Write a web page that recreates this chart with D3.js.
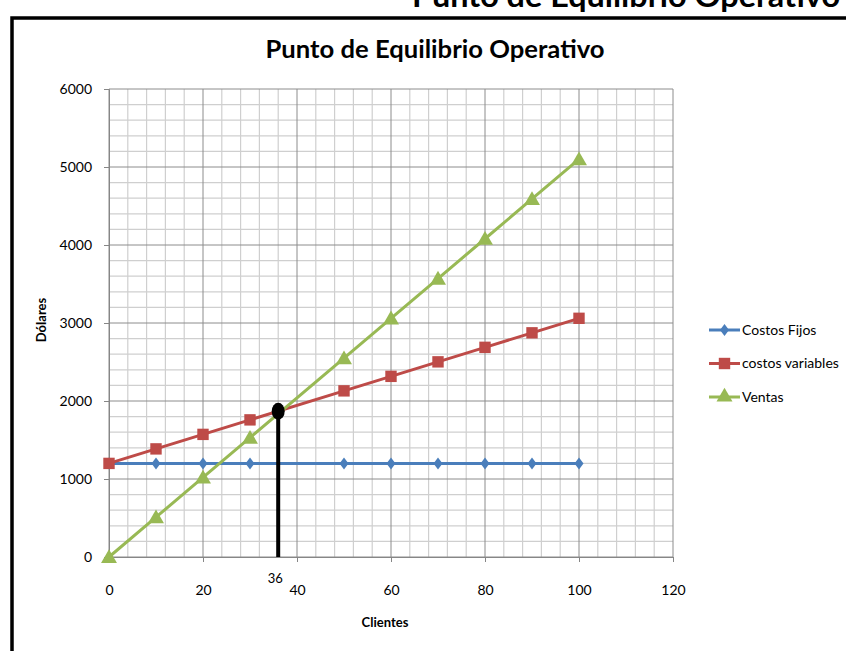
<!DOCTYPE html>
<html>
<head>
<meta charset="utf-8">
<script src="https://cdn.jsdelivr.net/npm/d3@7"></script>
<style>
  html, body { margin: 0; padding: 0; background: #fff; }
  svg { display: block; }
  text { font-family: Lato, "Open Sans", sans-serif; fill: #000; }
</style>
</head>
<body>
<svg id="chart" width="846" height="651"></svg>
<script>
// Break-even data: clients vs. dollars
const clientes = [0, 10, 20, 30, 50, 60, 70, 80, 90, 100];
const costosFijos = [1200, 1200, 1200, 1200, 1200, 1200, 1200, 1200, 1200, 1200];
const costosVariables = [1200, 1386, 1572, 1758, 2130, 2316, 2502, 2688, 2874, 3060];
const ventas = [0, 510, 1020, 1530, 2550, 3060, 3570, 4080, 4590, 5100];
const xTicks = [0, 20, 40, 60, 80, 100, 120];
const yTicks = [0, 1000, 2000, 3000, 4000, 5000, 6000];
const equilibrioX = 36;
const equilibrioY = 1870;
const seriesNames = ["Costos Fijos", "costos variables", "Ventas"];
const seriesColors = ["#4A7EBB", "#BE4B48", "#98B954"];

const svg = d3.select("#chart");
const x = d3.scaleLinear().domain([0, 120]).range([109, 673]);
const y = d3.scaleLinear().domain([0, 6000]).range([557, 89]);

// Heading above the chart box (runs off the top edge of the page)
svg.append("text")
  .attr("x", 412).attr("y", 7)
  .attr("font-size", 30).attr("font-weight", "bold")
  .attr("textLength", 428).attr("lengthAdjust", "spacingAndGlyphs")
  .text("Punto de Equilibrio Operativo");

// Chart box border
svg.append("rect")
  .attr("x", 12).attr("y", 18).attr("width", 900).attr("height", 700)
  .attr("fill", "#fff").attr("stroke", "#000").attr("stroke-width", 3.5);

// Title
svg.append("text")
  .attr("x", 435).attr("y", 58).attr("text-anchor", "middle")
  .attr("font-size", 25).attr("font-weight", "bold")
  .attr("textLength", 339).attr("lengthAdjust", "spacingAndGlyphs")
  .text("Punto de Equilibrio Operativo");

// Grid: minor lines
const grid = svg.append("g");
grid.selectAll(".vminor").data(d3.range(0, 121, 4).filter(v => v % 20 !== 0)).join("line")
  .attr("x1", d => x(d)).attr("x2", d => x(d)).attr("y1", y(0)).attr("y2", y(6000))
  .attr("stroke", "#cfcfcf").attr("stroke-width", 1.2);
grid.selectAll(".hminor").data(d3.range(0, 6001, 200).filter(v => v % 1000 !== 0)).join("line")
  .attr("x1", x(0)).attr("x2", x(120)).attr("y1", d => y(d)).attr("y2", d => y(d))
  .attr("stroke", "#cfcfcf").attr("stroke-width", 1.2);
// Grid: major lines
grid.selectAll(".vmajor").data(xTicks).join("line")
  .attr("x1", d => x(d)).attr("x2", d => x(d)).attr("y1", y(0)).attr("y2", y(6000))
  .attr("stroke", "#8c8c8c").attr("stroke-width", 1);
grid.selectAll(".hmajor").data(yTicks).join("line")
  .attr("x1", x(0)).attr("x2", x(120)).attr("y1", d => y(d)).attr("y2", d => y(d))
  .attr("stroke", "#8c8c8c").attr("stroke-width", 1);

// Axes
const yAxis = svg.append("g").attr("transform", `translate(${x(0)},0)`)
  .call(d3.axisLeft(y).tickValues(yTicks).tickSize(5).tickPadding(12).tickFormat(d3.format("d")));
const xAxis = svg.append("g").attr("transform", `translate(0,${y(0)})`)
  .call(d3.axisBottom(x).tickValues(xTicks).tickSize(5).tickPadding(23).tickFormat(d3.format("d")));
[yAxis, xAxis].forEach(a => {
  a.select(".domain").attr("stroke", "#868686");
  a.selectAll(".tick line").attr("stroke", "#868686");
  a.selectAll(".tick text").attr("font-size", 14).attr("font-family", "Lato, sans-serif").attr("fill", "#000");
});

// Axis titles
svg.append("text")
  .attr("transform", `translate(46,320) rotate(-90)`)
  .attr("text-anchor", "middle").attr("font-size", 13).attr("font-weight", "bold")
  .text("Dólares");
svg.append("text")
  .attr("x", 385).attr("y", 627).attr("text-anchor", "middle")
  .attr("font-size", 13).attr("font-weight", "bold")
  .text("Clientes");

// Series
const series = [costosFijos, costosVariables, ventas];
const line = d3.line().x(d => x(d[0])).y(d => y(d[1]));
const symbols = [d3.symbolDiamond, d3.symbolSquare, d3.symbolTriangle];
const symbolSizes = [60, 130, 110];

function marker(sel, i) {
  if (i === 0) {
    // narrow diamond
    sel.append("path").attr("d", "M0,-6L4.5,0L0,6L-4.5,0Z");
  } else {
    sel.append("path").attr("d", d3.symbol(symbols[i], symbolSizes[i])());
  }
}

series.forEach((vals, i) => {
  const pts = clientes.map((c, k) => [c, vals[k]]);
  const g = svg.append("g").attr("fill", seriesColors[i]);
  g.append("path").datum(pts).attr("d", line)
    .attr("fill", "none").attr("stroke", seriesColors[i]).attr("stroke-width", 3);
  g.selectAll("g.m").data(pts).join("g")
    .attr("transform", d => `translate(${x(d[0])},${y(d[1]) + (i === 2 ? 1.5 : 0)})`)
    .each(function () { marker(d3.select(this), i); });
});

// Break-even marker
svg.append("line")
  .attr("x1", x(equilibrioX)).attr("x2", x(equilibrioX))
  .attr("y1", y(equilibrioY)).attr("y2", y(0))
  .attr("stroke", "#000").attr("stroke-width", 4);
svg.append("ellipse")
  .attr("cx", x(equilibrioX)).attr("cy", y(equilibrioY))
  .attr("rx", 6.5).attr("ry", 8.5).attr("fill", "#000");
svg.append("text")
  .attr("x", x(equilibrioX) - 3).attr("y", 583).attr("text-anchor", "middle")
  .attr("font-size", 13).text(equilibrioX);

// Legend
const legend = svg.append("g");
seriesNames.forEach((name, i) => {
  const ly = 330 + i * 33.5;
  const lg = legend.append("g").attr("fill", seriesColors[i]);
  lg.append("line").attr("x1", 709).attr("x2", 740).attr("y1", ly).attr("y2", ly)
    .attr("stroke", seriesColors[i]).attr("stroke-width", 3);
  lg.append("g").attr("transform", `translate(724.5,${ly})`).call(s => marker(s, i));
  legend.append("text").attr("x", 742).attr("y", ly).attr("dy", "0.35em")
    .attr("font-size", 14).text(name);
});
</script>
</body>
</html>
